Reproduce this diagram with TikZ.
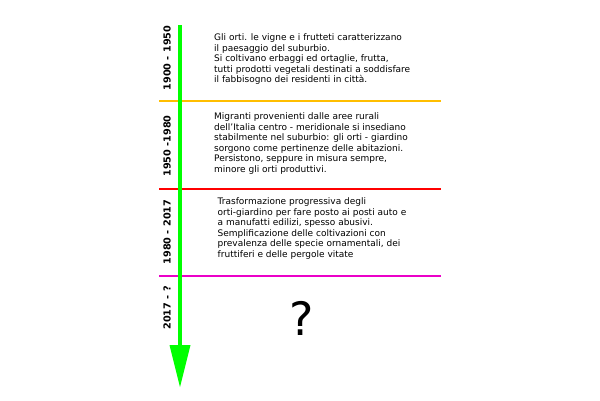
\documentclass[tikz,border=0pt]{standalone}
\usepackage{fontspec}
\setmainfont{DejaVu Sans}
\begin{document}
\begin{tikzpicture}[x=1pt,y=-1pt,
  sep/.style={line width=2.2pt},
  period/.style={font=\fontsize{9.7}{11}\selectfont\bfseries, rotate=90, inner sep=0pt},
  desc/.style={font=\fontsize{9.0}{10.6}\selectfont, align=left, anchor=north west, inner sep=0pt},
]
\useasboundingbox (0,0) rectangle (600,400);
\definecolor{tlgreen}{RGB}{0,255,0}
\definecolor{tlorange}{RGB}{255,190,0}
\definecolor{tlred}{RGB}{255,0,0}
\definecolor{tlmagenta}{RGB}{235,0,200}
% separators
\draw[sep, tlorange] (159,101) -- (441,101);
\draw[sep, tlred] (159,189) -- (441,189);
\draw[sep, tlmagenta] (159,276) -- (441,276);
% timeline arrow
\coordinate (top) at (180,25);
\coordinate (headbase) at (180,346);
\coordinate (tip) at (180,387);
\draw[tlgreen, line width=4pt] (top) -- (headbase);
\fill[tlgreen] (169.5,345) -- (190.5,345) -- (tip) -- cycle;
% period labels
\node[period] (p1) at (167,58) {1900 - 1950};
\node[period] (p2) at (167,146) {1950 -1980};
\node[period] (p3) at (167,232) {1980 - 2017};
\node[period] (p4) at (167,308) {2017 - ?};
% descriptions
\node[desc] (d1) at (214,33.5) {Gli orti. le vigne e i frutteti caratterizzano\\il paesaggio del suburbio.\\Si coltivano erbaggi ed ortaglie, frutta,\\tutti prodotti vegetali destinati a soddisfare\\il fabbisogno dei residenti in città.};
\node[desc] (d2) at (214,112.5) {Migranti provenienti dalle aree rurali\\dell’Italia centro - meridionale si insediano\\stabilmente nel suburbio: gli orti - giardino\\sorgono come pertinenze delle abitazioni.\\Persistono, seppure in misura sempre,\\minore gli orti produttivi.};
\node[desc] (d3) at (217.5,197.5) {Trasformazione progressiva degli\\orti-giardino per fare posto ai posti auto e\\a manufatti edilizi, spesso abusivi.\\Semplificazione delle coltivazioni con\\prevalenza delle specie ornamentali, dei\\fruttiferi e delle pergole vitate};
\node[font=\fontsize{46}{50}\selectfont, inner sep=0pt] (q) at (302,318) {?};
\end{tikzpicture}
\end{document}
